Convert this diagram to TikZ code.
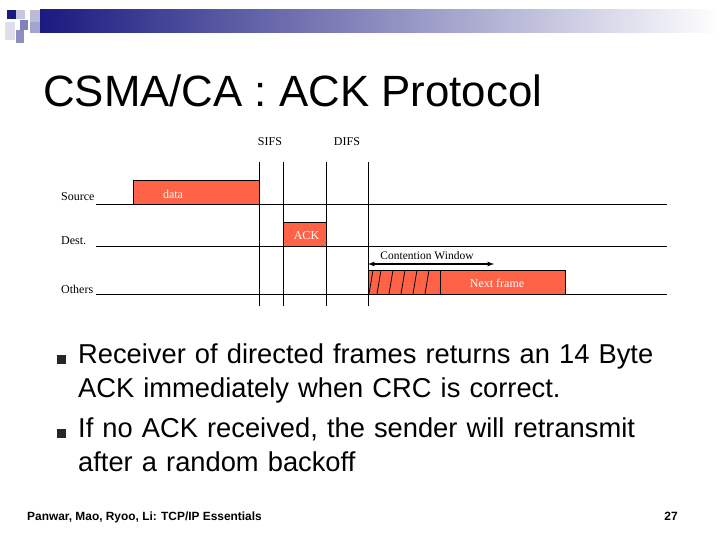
\documentclass[tikz,border=0pt]{standalone}
\usepackage{fontspec}
\setmainfont{Liberation Sans}
\newfontfamily\tms{Liberation Serif}
\definecolor{frm}{HTML}{FF6347}
\definecolor{navy}{HTML}{1A1A80}
\begin{document}
\begin{tikzpicture}[x=1pt,y=-1pt,
  lbl/.style={font=\tms\fontsize{12}{12}\selectfont,inner sep=0pt},
  box/.style={draw=black,fill=frm,line width=0.8pt},
  tl/.style={line width=0.8pt},
  body/.style={font=\fontsize{27.3}{34}\selectfont,anchor=north west,inner sep=0pt,align=left,text width=600pt},
  bul/.style={fill=black!85,minimum size=9pt,inner sep=0pt}]
\useasboundingbox (0,0) rectangle (720,540);
% header
\shade[left color=navy, right color=white] (40,10) rectangle (720,33);
\fill[navy] (7,10) rectangle (16,19);
\fill[navy!25] (16,10) rectangle (25,19);
\fill[navy!30] (30,10) rectangle (40,22);
\fill[navy!55] (20,20) rectangle (28,30);
\fill[navy!40] (30,22) rectangle (40,33);
\fill[navy!50] (16,30) rectangle (24,43);
\fill[navy!15] (5,22) rectangle (15,40);
\node[anchor=base west,inner sep=0pt,font=\fontsize{43.8}{44}\selectfont] (title) at (43,107) {CSMA/CA : ACK Protocol};
% labels
\node[lbl] (sifs) at (270,142) {SIFS};
\node[lbl] (difs) at (347,142) {DIFS};
\node[lbl,anchor=west] (src) at (61,197) {Source};
\node[lbl,anchor=west] (dst) at (61,241) {Dest.};
\node[lbl,anchor=west] (oth) at (61,289) {Others};
% timelines
\draw[tl] (96,204) -- (667,204);
\draw[tl] (96,246) -- (667,246);
\draw[tl] (96,294) -- (667,294);
% boxes
\draw[box] (133,204) rectangle node[lbl,text=white,xshift=-23pt,yshift=-2pt] (data) {data} (259,180);
\draw[box] (283,246) rectangle node[lbl,text=white,xshift=2pt,yshift=-2pt] (ack) {ACK} (326,222);
\draw[box] (368,294) rectangle (565,270);
\draw[tl] (440,270) -- (440,294);
\node[lbl,text=white] (next) at (497,283) {Next frame};
\foreach \a in {373,381,393,405,417,429}{\draw[tl] (\a,270) -- (\a-4,294);}
% vertical lines
\foreach \v in {259,283,326,368}{\draw[line width=0.6pt] (\v,162) -- (\v,306);}
% contention window
\draw[line width=1.2pt,<->,>=latex] (368,264) -- (494,264);
\node[lbl,font=\tms\fontsize{11.5}{12}\selectfont] (cw) at (427,256) {Contention Window};
% bullets
\node[bul] (b1) at (61,359) {};
\node[bul] (b2) at (61,433) {};
\node[body] (t1) at (78,344) {Receiver of directed frames returns an 14 Byte ACK immediately when CRC is correct.};
\node[body] (t2) at (78,418) {If no ACK received, the sender will retransmit after a random backoff};
% footer
\node[anchor=base west,inner sep=0pt,font=\bfseries\fontsize{11.9}{12}\selectfont] (ft) at (27,520) {Panwar, Mao, Ryoo, Li: TCP/IP Essentials};
\node[anchor=base east,inner sep=0pt,font=\bfseries\fontsize{12}{12}\selectfont] (pg) at (678,520) {27};
\end{tikzpicture}
\end{document}
